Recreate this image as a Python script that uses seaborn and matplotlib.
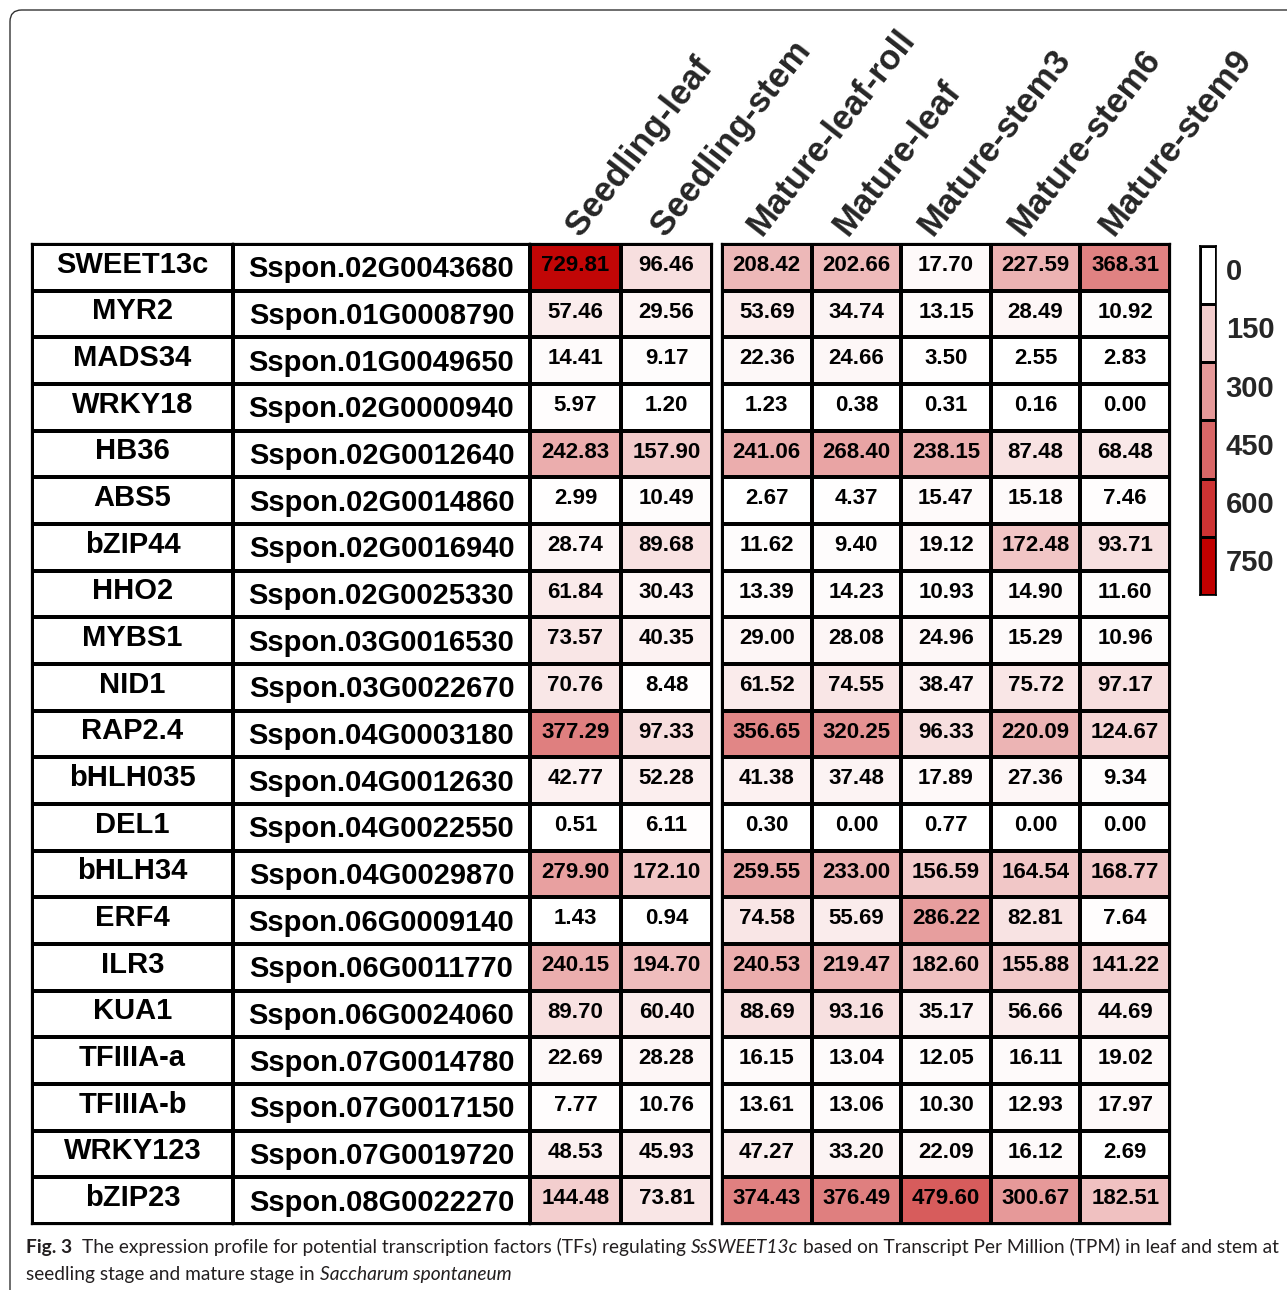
import numpy as np
import pandas as pd
import matplotlib
matplotlib.use("Agg")
import matplotlib.pyplot as plt
import seaborn as sns
from matplotlib.colors import LinearSegmentedColormap, ListedColormap
from matplotlib.patches import FancyBboxPatch

genes = ["SWEET13c", "MYR2", "MADS34", "WRKY18", "HB36", "ABS5", "bZIP44",
         "HHO2", "MYBS1", "NID1", "RAP2.4", "bHLH035", "DEL1", "bHLH34",
         "ERF4", "ILR3", "KUA1", "TFIIIA-a", "TFIIIA-b", "WRKY123", "bZIP23"]
gene_ids = ["Sspon.02G0043680", "Sspon.01G0008790", "Sspon.01G0049650",
            "Sspon.02G0000940", "Sspon.02G0012640", "Sspon.02G0014860",
            "Sspon.02G0016940", "Sspon.02G0025330", "Sspon.03G0016530",
            "Sspon.03G0022670", "Sspon.04G0003180", "Sspon.04G0012630",
            "Sspon.04G0022550", "Sspon.04G0029870", "Sspon.06G0009140",
            "Sspon.06G0011770", "Sspon.06G0024060", "Sspon.07G0014780",
            "Sspon.07G0017150", "Sspon.07G0019720", "Sspon.08G0022270"]

# TPM per sample
seedling_leaf = [729.81, 57.46, 14.41, 5.97, 242.83, 2.99, 28.74, 61.84, 73.57, 70.76, 377.29,
                 42.77, 0.51, 279.90, 1.43, 240.15, 89.70, 22.69, 7.77, 48.53, 144.48]
seedling_stem = [96.46, 29.56, 9.17, 1.20, 157.90, 10.49, 89.68, 30.43, 40.35, 8.48, 97.33,
                 52.28, 6.11, 172.10, 0.94, 194.70, 60.40, 28.28, 10.76, 45.93, 73.81]
mature_leaf_roll = [208.42, 53.69, 22.36, 1.23, 241.06, 2.67, 11.62, 13.39, 29.00, 61.52, 356.65,
                    41.38, 0.30, 259.55, 74.58, 240.53, 88.69, 16.15, 13.61, 47.27, 374.43]
mature_leaf = [202.66, 34.74, 24.66, 0.38, 268.40, 4.37, 9.40, 14.23, 28.08, 74.55, 320.25,
               37.48, 0.00, 233.00, 55.69, 219.47, 93.16, 13.04, 13.06, 33.20, 376.49]
mature_stem3 = [17.70, 13.15, 3.50, 0.31, 238.15, 15.47, 19.12, 10.93, 24.96, 38.47, 96.33,
                17.89, 0.77, 156.59, 286.22, 182.60, 35.17, 12.05, 10.30, 22.09, 479.60]
mature_stem6 = [227.59, 28.49, 2.55, 0.16, 87.48, 15.18, 172.48, 14.90, 15.29, 75.72, 220.09,
                27.36, 0.00, 164.54, 82.81, 155.88, 56.66, 16.11, 12.93, 16.12, 300.67]
mature_stem9 = [368.31, 10.92, 2.83, 0.00, 68.48, 7.46, 93.71, 11.60, 10.96, 97.17, 124.67,
                9.34, 0.00, 168.77, 7.64, 141.22, 44.69, 19.02, 17.97, 2.69, 182.51]

seedling_cols = ["Seedling-leaf", "Seedling-stem"]
mature_cols = ["Mature-leaf-roll", "Mature-leaf", "Mature-stem3", "Mature-stem6", "Mature-stem9"]
legend_ticks = [0, 150, 300, 450, 600, 750]

W, H = 1287, 1290
TOP, BOT = 244, 1224
LW = 1.6
BOLD = dict(fontweight="bold", color="black")

sns.set_style("white")
plt.rcParams["font.family"] = ["Liberation Sans", "DejaVu Sans"]

fig = plt.figure(figsize=(W / 100, H / 100), dpi=100)


def px_axes(x0, y0, x1, y1):
    return fig.add_axes([x0 / W, 1 - y1 / H, (x1 - x0) / W, (y1 - y0) / H])


def boxed(ax, lw=LW):
    for sp in ax.spines.values():
        sp.set_visible(True)
        sp.set_linewidth(lw)
        sp.set_color("black")


tpm_cmap = LinearSegmentedColormap.from_list("tpm", ["#ffffff", "#c00000"])
white = ListedColormap(["white"])
blank = np.zeros((len(genes), 1))

# --- gene name / id columns
for (x0, x1), labels, dy in [((32, 233), genes, -0.06), ((233, 530), gene_ids, 0.04)]:
    ax = px_axes(x0, TOP, x1, BOT)
    sns.heatmap(blank, ax=ax, cmap=white, cbar=False,
                annot=np.array(labels)[:, None], fmt="",
                linewidths=LW, linecolor="black",
                xticklabels=False, yticklabels=False,
                annot_kws=dict(fontsize=21, **BOLD))
    for t in ax.texts:
        tx, ty = t.get_position()
        t.set_position((tx, ty + dy))
    boxed(ax)

# --- TPM heatmaps (seedling / mature)
df_seed = pd.DataFrame({"Seedling-leaf": seedling_leaf, "Seedling-stem": seedling_stem})
df_mat = pd.DataFrame({"Mature-leaf-roll": mature_leaf_roll, "Mature-leaf": mature_leaf,
                       "Mature-stem3": mature_stem3, "Mature-stem6": mature_stem6,
                       "Mature-stem9": mature_stem9})

# header tick shift (column units): rotated text starts left of the column centre
for (x0, x1), df, shifts in [((530, 712), df_seed, [-0.03, -0.09]),
                             ((722, 1170), df_mat, [-0.14, -0.18, -0.23, -0.23, -0.21])]:
    ax = px_axes(x0, TOP, x1, BOT)
    sns.heatmap(df, ax=ax, cmap=tpm_cmap, vmin=0, vmax=750, cbar=False,
                annot=True, fmt=".2f", linewidths=LW, linecolor="black",
                yticklabels=False, xticklabels=True,
                annot_kws=dict(fontsize=16, **BOLD))
    for t in ax.texts:
        tx, ty = t.get_position()
        t.set_position((tx, ty - 0.04))
    boxed(ax)
    ax.xaxis.tick_top()
    ax.tick_params(axis="x", length=0, pad=9)
    ax.set_xticks(np.arange(len(df.columns)) + 0.5 + np.array(shifts))
    ax.set_xticklabels(df.columns, rotation=52, ha="left", va="center",
                       rotation_mode="anchor", fontsize=25, fontweight="bold")

# --- stepped legend
ax_leg = px_axes(1200, 246, 1216, 595)
sns.heatmap(np.array(legend_ticks)[:, None], ax=ax_leg, cmap=tpm_cmap, vmin=0, vmax=750,
            cbar=False, linewidths=1.0, linecolor="black",
            xticklabels=False, yticklabels=legend_ticks)
boxed(ax_leg, 1.2)
ax_leg.yaxis.tick_right()
ax_leg.tick_params(axis="y", length=0, pad=7)
ax_leg.set_yticks(np.arange(len(legend_ticks)) + 0.45)
ax_leg.set_yticklabels(legend_ticks, rotation=0, fontsize=21, fontweight="bold", va="center")

# --- frame
fig.patches.append(FancyBboxPatch((10 / W, -0.2), 1.2, 1.2 - 10 / H,
                                  boxstyle="round,pad=0,rounding_size=0.009",
                                  transform=fig.transFigure, fill=False,
                                  edgecolor="#333333", linewidth=1.0))

# --- caption
CAP_FAMILY = ["Lato", "DejaVu Sans"]
CAP_FS = 13.75
renderer = fig.canvas.get_renderer()


def caption_line(runs, x, y):
    for s, style in runs:
        t = fig.text(x / W, 1 - y / H, s, fontsize=CAP_FS, family=CAP_FAMILY,
                     va="baseline", ha="left", **style)
        x += t.get_window_extent(renderer=renderer).width
    return x


sp = fig.text(0, 0, "a a", fontsize=CAP_FS, family=CAP_FAMILY)
sp2 = fig.text(0, 0, "aa", fontsize=CAP_FS, family=CAP_FAMILY)
space = sp.get_window_extent(renderer).width - sp2.get_window_extent(renderer).width
sp.remove()
sp2.remove()

REG = dict(color="#231f20")
x = caption_line([("Fig. 3", dict(fontweight="bold", color="#231f20"))], 26, 1253)
x = caption_line([("The expression profile for potential transcription factors (TFs) regulating", REG)],
                 x + 2 * space, 1253)
x = caption_line([("SsSWEET13c", dict(style="italic", color="#231f20"))], x + space, 1253)
caption_line([("based on Transcript Per Million (TPM) in leaf and stem at", REG)], x + space, 1253)
x = caption_line([("seedling stage and mature stage in", REG)], 26, 1280)
caption_line([("Saccharum spontaneum", dict(style="italic", color="#231f20"))], x + space, 1280)

fig.savefig("out.png", dpi=100)
